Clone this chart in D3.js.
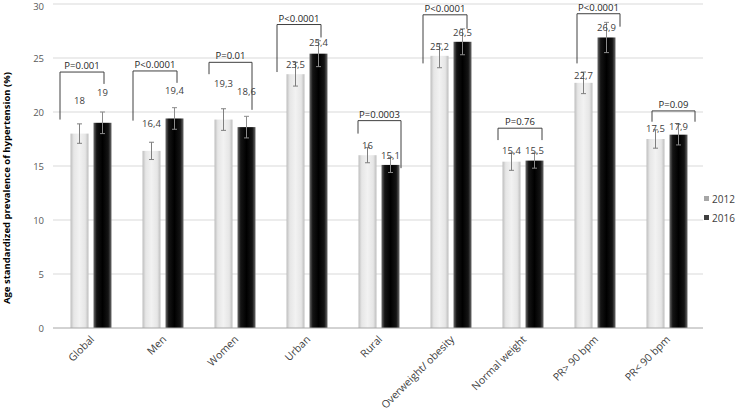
<!DOCTYPE html>
<html>
<head>
<meta charset="utf-8">
<script src="https://cdn.jsdelivr.net/npm/d3@7"></script>
<style>
  body { margin: 0; background: #fff; }
  text { font-family: "Open Sans", sans-serif; }
</style>
</head>
<body>
<div id="chart"></div>
<script>
// values
const categories = ["Global", "Men", "Women", "Urban", "Rural", "Overweight/ obesity", "Normal weight", "PR> 90 bpm", "PR< 90 bpm"]
const years = ["2012", "2016"]
const values2012 = [18, 16.4, 19.3, 23.5, 16, 25.2, 15.4, 22.7, 17.5]
const values2016 = [19, 19.4, 18.6, 25.4, 15.1, 26.5, 15.5, 26.9, 17.9]
const err2012 = [0.9, 0.8, 1.0, 1.1, 0.7, 1.1, 0.8, 1.0, 0.85]
const err2016 = [1.0, 1.0, 1.0, 1.2, 0.7, 1.2, 0.7, 1.4, 0.95]
// where the value labels sit (in axis units, they were moved by hand)
const labelAt2012 = [21.1, 18.9, 22.6, 24.4, 16.9, 26.1, 16.4, 23.4, 18.5]
const labelAt2016 = [21.8, 22.0, 21.9, 26.4, 16.0, 27.4, 16.4, 27.8, 18.7]
// p-value brackets: label, top of bracket, end of left leg, end of right leg (axis units)
const pLabels = ["P=0.001", "P<0.0001", "P=0.01", "P<0.0001", "P=0.0003", "P<0.0001", "P=0.76", "P<0.0001", "P=0.09"]
const bracketTop = [23.7, 23.8, 24.6, 28.1, 19.2, 29.0, 18.5, 29.1, 20.1]
const bracketLeftEnd = [19.3, 19.2, 23.5, 23.7, 18.0, 24.5, 17.4, 24.5, 19.1]
const bracketRightEnd = [22.6, 22.7, 20.2, 26.9, 14.8, 27.7, 17.4, 27.9, 19.1]
// leg offsets from the group centre, in px
const bracketLegs = [[-31, 13], [-30, 14], [-26, 17], [-30, 14], [-21, 22], [-28, 16], [-25, 19], [-18, 25], [-15, 28]]
const yTicks = [0, 5, 10, 15, 20, 25, 30]

const width = 740, height = 414
const margin = {left: 55, right: 37, top: 4, bottom: 86}

const svg = d3.select("#chart").append("svg")
    .attr("width", width)
    .attr("height", height)

const x = d3.scaleBand()
    .domain(categories)
    .range([margin.left, width - margin.right])

const y = d3.scaleLinear()
    .domain([0, 30])
    .range([height - margin.bottom, margin.top])

const barW = 18, gap = 5

// gradients that mimic the excel shading
const defs = svg.append("defs")
function gradient(id, stops) {
    const g = defs.append("linearGradient").attr("id", id)
        .attr("x1", "0%").attr("x2", "100%").attr("y1", "0%").attr("y2", "0%")
    stops.forEach(s => g.append("stop").attr("offset", s[0]).attr("stop-color", s[1]))
}
gradient("g2012", [["0%", "#bdbdbd"], ["18%", "#e6e6e6"], ["50%", "#f2f2f2"], ["82%", "#e6e6e6"], ["100%", "#bdbdbd"]])
gradient("g2016", [["0%", "#6a6a6a"], ["18%", "#141414"], ["50%", "#000"], ["82%", "#141414"], ["100%", "#6a6a6a"]])

// grid
svg.append("g").selectAll("line")
    .data(yTicks.filter(d => d > 0))
    .join("line")
    .attr("x1", margin.left - 2)
    .attr("x2", width - margin.right)
    .attr("y1", d => y(d)).attr("y2", d => y(d))
    .attr("stroke", "#d9d9d9")
    .attr("stroke-width", 1)

svg.append("g").selectAll("text")
    .data(yTicks)
    .join("text")
    .attr("x", margin.left - 11)
    .attr("y", d => Math.max(y(d) + 3.5, 10))
    .attr("text-anchor", "end")
    .attr("font-size", 9.5)
    .attr("fill", "#595959")
    .text(d => d)

const rows = categories.map((c, i) => ({
    cat: c, i: i,
    bars: [
        {year: "2012", v: values2012[i], e: err2012[i], lab: labelAt2012[i], dx: -gap / 2 - barW},
        {year: "2016", v: values2016[i], e: err2016[i], lab: labelAt2016[i], dx: gap / 2}
    ]
}))

const center = d => x(d.cat) + x.bandwidth() / 2
const fmt = v => d3.format("~g")(v).replace(".", ",")

const groups = svg.append("g").selectAll("g")
    .data(rows)
    .join("g")

groups.selectAll("rect")
    .data(d => d.bars.map(b => ({...b, c: center(d)})))
    .join("rect")
    .attr("x", b => b.c + b.dx)
    .attr("y", b => y(b.v))
    .attr("width", barW)
    .attr("height", b => y(0) - y(b.v))
    .attr("fill", b => `url(#g${b.year})`)

// error bars
const eb = groups.selectAll("g.err")
    .data(d => d.bars.map(b => ({...b, c: center(d)})))
    .join("g")
    .attr("class", "err")
    .attr("stroke", b => b.year === "2012" ? "#7f7f7f" : "#8c8c8c")
    .attr("stroke-width", 1)
eb.append("line")
    .attr("x1", b => b.c + b.dx + barW / 2).attr("x2", b => b.c + b.dx + barW / 2)
    .attr("y1", b => y(b.v + b.e)).attr("y2", b => y(b.v - b.e))
eb.append("line")
    .attr("x1", b => b.c + b.dx + barW / 2 - 2.5).attr("x2", b => b.c + b.dx + barW / 2 + 2.5)
    .attr("y1", b => y(b.v + b.e)).attr("y2", b => y(b.v + b.e))
eb.append("line")
    .attr("x1", b => b.c + b.dx + barW / 2 - 2.5).attr("x2", b => b.c + b.dx + barW / 2 + 2.5)
    .attr("y1", b => y(b.v - b.e)).attr("y2", b => y(b.v - b.e))

// value labels
groups.selectAll("text.val")
    .data(d => d.bars.map(b => ({...b, c: center(d)})))
    .join("text")
    .attr("class", "val")
    .attr("x", b => b.c + b.dx + barW / 2)
    .attr("y", b => y(b.lab) + 3.5)
    .attr("text-anchor", "middle")
    .attr("font-size", 9.5)
    .attr("fill", "#404040")
    .text(b => fmt(b.v))

// brackets
groups.append("path")
    .attr("fill", "none")
    .attr("stroke", "#404040")
    .attr("stroke-width", 1)
    .attr("d", d => {
        const c = center(d), l = c + bracketLegs[d.i][0], r = c + bracketLegs[d.i][1]
        return `M${l},${y(bracketLeftEnd[d.i])}V${y(bracketTop[d.i])}H${r}V${y(bracketRightEnd[d.i])}`
    })
groups.append("text")
    .attr("x", d => center(d) + (bracketLegs[d.i][0] + bracketLegs[d.i][1]) / 2)
    .attr("y", d => y(bracketTop[d.i]) - 3)
    .attr("text-anchor", "middle")
    .attr("font-size", 9.5)
    .attr("fill", "#262626")
    .text(d => pLabels[d.i])

// baseline
svg.append("line")
    .attr("x1", margin.left - 2).attr("x2", width - margin.right)
    .attr("y1", y(0)).attr("y2", y(0))
    .attr("stroke", "#a6a6a6")

// category labels
svg.append("g").selectAll("text")
    .data(categories)
    .join("text")
    .attr("transform", d => `translate(${x(d) + x.bandwidth() / 2 + 4},${y(0) + 12}) rotate(-45)`)
    .attr("text-anchor", "end")
    .attr("font-size", 10.5)
    .attr("fill", "#404040")
    .text(d => d)

// axis title
svg.append("text")
    .attr("transform", `translate(10,${(y(0) + y(30)) / 2 + 22}) rotate(-90)`)
    .attr("text-anchor", "middle")
    .attr("font-size", 9.5)
    .attr("font-weight", "bold")
    .attr("fill", "#000")
    .text("Age standardized prevalence of hypertension (%)")

// legend
const legend = svg.append("g").selectAll("g")
    .data(years)
    .join("g")
    .attr("transform", (d, i) => `translate(704,${199 + i * 19})`)
legend.append("rect")
    .attr("x", 0).attr("y", -3)
    .attr("width", 5).attr("height", 5)
    .attr("fill", d => d === "2012" ? "#a6a6a6" : "#404040")
legend.append("text")
    .attr("x", 8).attr("y", 4)
    .attr("font-size", 10)
    .attr("fill", "#404040")
    .text(d => d)
</script>
</body>
</html>
